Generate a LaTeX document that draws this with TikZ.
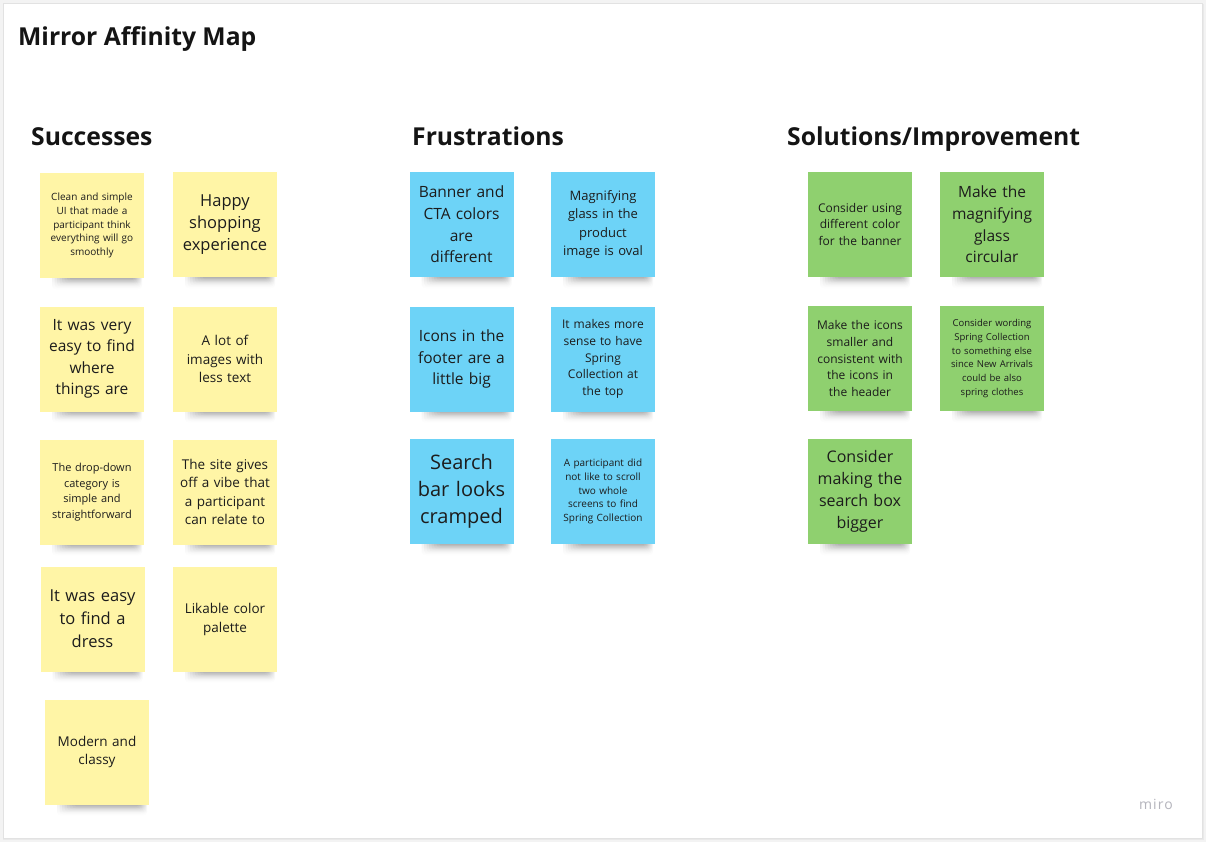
\documentclass[tikz,border=0pt]{standalone}
\usepackage{fontspec}
\setmainfont{Open Sans}
\usetikzlibrary{fadings}
\definecolor{bgout}{HTML}{F3F3F3}
\definecolor{framebd}{HTML}{E2E2E2}
\definecolor{noteyellow}{HTML}{FFF5A6}
\definecolor{noteblue}{HTML}{6DD3F7}
\definecolor{notegreen}{HTML}{8FD06F}
\definecolor{notetext}{HTML}{1C1C1C}
\definecolor{titletext}{HTML}{141414}
\definecolor{logogray}{HTML}{B4B4BC}
\tikzfading[name=shadowdown, top color=transparent!0, bottom color=transparent!100]
\tikzset{
  note/.style={minimum width=104pt, minimum height=105pt, text width=100pt, align=center, inner sep=0pt, text=notetext},
  heading/.style={anchor=base west, inner sep=0pt, text=titletext, font=\fontsize{24.7}{30}\selectfont\bfseries},
}
\newcommand\mknote[7]{%
  \begin{scope}[shift={(#2,#3)}]
    \foreach \k in {0,...,7}
      \fill[black,opacity=0.075,rounded corners=4pt,path fading=shadowdown] (-40+2.5*\k,47) rectangle (50-1.2*\k,64-1.2*\k);
  \end{scope}
  \node[note,fill=#4,font=\fontsize{#5}{#6}\selectfont] (#1) at (#2,#3) {#7};
}
\begin{document}
\begin{tikzpicture}[x=1pt,y=-1pt]
\useasboundingbox (0,0) rectangle (1206,842);
\fill[bgout] (0,0) rectangle (1206,842);
\fill[black,opacity=0.04] (3,4) rectangle (1204,840);
\draw[framebd,fill=white] (3.5,3.5) rectangle (1202.5,838.5);

\node[heading] (title) at (18,46) {Mirror Affinity Map};
\node[heading] (hs) at (31,146) {Successes};
\node[heading] (hf) at (412,146) {Frustrations};
\node[heading] (hi) at (787,146) {Solutions/Improvement};

% Successes
\mknote{s1}{92}{225.5}{noteyellow}{10}{13.8}{Clean and simple\\UI that made a\\participant think\\everything will go\\smoothly}
\mknote{s2}{225}{224.5}{noteyellow}{16.5}{22}{Happy\\shopping\\experience}
\mknote{s3}{92}{359}{noteyellow}{15.5}{21.5}{It was very\\easy to find\\where\\things are}
\mknote{s4}{225}{359}{noteyellow}{13.5}{18.5}{A lot of\\images with\\less text}
\mknote{s5}{92}{492}{noteyellow}{11}{15.7}{The drop-down\\category is\\simple and\\straightforward}
\mknote{s6}{225}{492}{noteyellow}{13.5}{18.3}{The site gives\\off a vibe that\\a participant\\can relate to}
\mknote{s7}{92.5}{619}{noteyellow}{16.5}{23}{It was easy\\to find a\\dress}
\mknote{s8}{225}{619}{noteyellow}{13.5}{19}{Likable color\\palette}
\mknote{s9}{97}{752}{noteyellow}{13.5}{18}{Modern and\\classy}

% Frustrations
\mknote{f1}{461.5}{224.5}{noteblue}{15.5}{21.7}{Banner and\\CTA colors\\are\\different}
\mknote{f2}{603}{224.5}{noteblue}{13}{18.3}{Magnifying\\glass in the\\product\\image is oval}
\mknote{f3}{461.5}{359}{noteblue}{15.5}{21.5}{Icons in the\\footer are a\\little big}
\mknote{f4}{603}{359}{noteblue}{12}{16.7}{It makes more\\sense to have\\Spring\\Collection at\\the top}
\mknote{f5}{461.5}{491.5}{noteblue}{20}{27}{Search\\bar looks\\cramped}
\mknote{f6}{603}{491.5}{noteblue}{10}{13.7}{A participant did\\not like to scroll\\two whole\\screens to find\\Spring Collection}

% Solutions
\mknote{i1}{860}{224.5}{notegreen}{12}{16.5}{Consider using\\different color\\for the banner}
\mknote{i2}{992}{224.5}{notegreen}{15.5}{21.7}{Make the\\magnifying\\glass\\circular}
\mknote{i3}{860}{358.5}{notegreen}{12}{16.7}{Make the icons\\smaller and\\consistent with\\the icons in\\the header}
\mknote{i4}{992}{358.5}{notegreen}{9.5}{13.8}{Consider wording\\Spring Collection\\to something else\\since New Arrivals\\could be also\\spring clothes}
\mknote{i5}{860}{491.5}{notegreen}{16}{22}{Consider\\making the\\search box\\bigger}

\node[text=logogray,font=\fontsize{14}{16}\selectfont,inner sep=0pt] (logo) at (1156,804) {\addfontfeatures{LetterSpace=8}miro};
\end{tikzpicture}
\end{document}
